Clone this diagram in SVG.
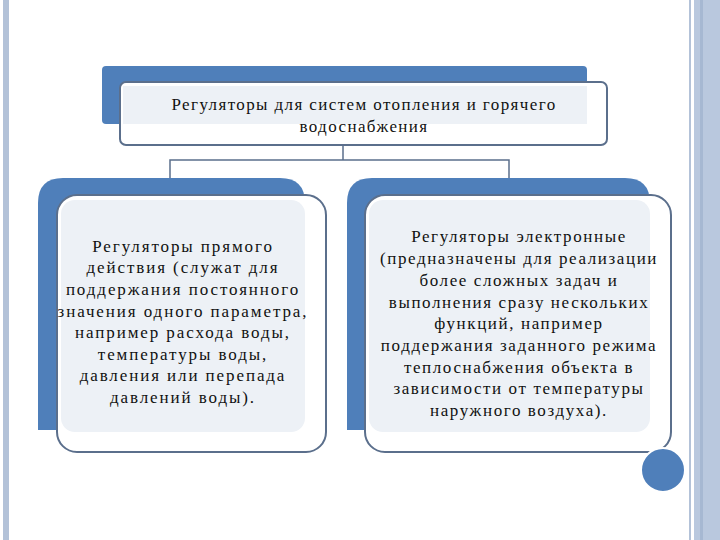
<svg xmlns="http://www.w3.org/2000/svg" width="720" height="540" viewBox="0 0 720 540">
<style>
.blue{fill:#4f7fba}
.card{fill:#fff;stroke:#5b6f8c;stroke-width:2}
.inner{fill:#edf1f6}
.t{font-family:'Liberation Serif','Times New Roman','DejaVu Serif',serif;font-size:17px;letter-spacing:1.6px;fill:#111;text-anchor:middle}
.l{letter-spacing:1.9px}
.h{letter-spacing:1.4px}
.c{fill:none;stroke:#5b6f8c;stroke-width:1.5}
</style>
<rect width="720" height="540" fill="#fff"/>
<rect x="3" y="0" width="6" height="540" fill="#b3c2d8"/>
<rect x="689" y="0" width="2" height="540" fill="#b3c2d8"/>
<rect x="694" y="0" width="26" height="540" fill="#b9c8de"/>
<rect x="700" y="0" width="3" height="540" fill="#a6b8d2"/>
<g id="top">
<rect class="blue" x="102" y="66" width="485" height="58" rx="4"/>
<rect class="card" x="120" y="82" width="487" height="63" rx="6"/>
<rect class="inner" x="123" y="86" width="464" height="38"/>
<text class="t h" x="364" y="110">Регуляторы для систем отопления и горячего</text>
<text class="t h" x="364" y="132">водоснабжения</text>
</g>
<g id="connectors">
<path class="c" d="M343 145V160M170 180V160H509V180"/>
</g>
<g id="left">
<path class="blue" d="M38 430V203Q38 178 63 178H280Q305 178 305 203V430Z"/>
<rect class="card" x="57" y="195" width="269" height="257" rx="20"/>
<rect class="inner" x="61" y="200" width="244" height="232" rx="14"/>
<text class="t l" x="183" y="252">Регуляторы прямого</text>
<text class="t l" x="183" y="273">действия (служат для</text>
<text class="t l" x="183" y="295">поддержания постоянного</text>
<text class="t l" x="183" y="317">значения одного параметра,</text>
<text class="t l" x="183" y="338">например расхода воды,</text>
<text class="t l" x="183" y="360">температуры воды,</text>
<text class="t l" x="183" y="381">давления или перепада</text>
<text class="t l" x="183" y="403">давлений воды).</text>
</g>
<g id="right">
<path class="blue" d="M347 430V203Q347 178 372 178H625Q650 178 650 203V430Z"/>
<rect class="card" x="365" y="195" width="306" height="257" rx="20"/>
<rect class="inner" x="369" y="200" width="281" height="232" rx="14"/>
<text class="t" x="519" y="242">Регуляторы электронные</text>
<text class="t" x="519" y="264">(предназначены для реализации</text>
<text class="t" x="519" y="286">более сложных задач и</text>
<text class="t" x="519" y="308">выполнения сразу нескольких</text>
<text class="t" x="519" y="329">функций, например</text>
<text class="t" x="519" y="351">поддержания заданного режима</text>
<text class="t" x="519" y="373">теплоснабжения объекта в</text>
<text class="t" x="519" y="394">зависимости от температуры</text>
<text class="t" x="519" y="416">наружного воздуха).</text>
</g>
<circle cx="663" cy="470" r="22" fill="#4f7fba" stroke="#fff" stroke-width="2"/>
</svg>
